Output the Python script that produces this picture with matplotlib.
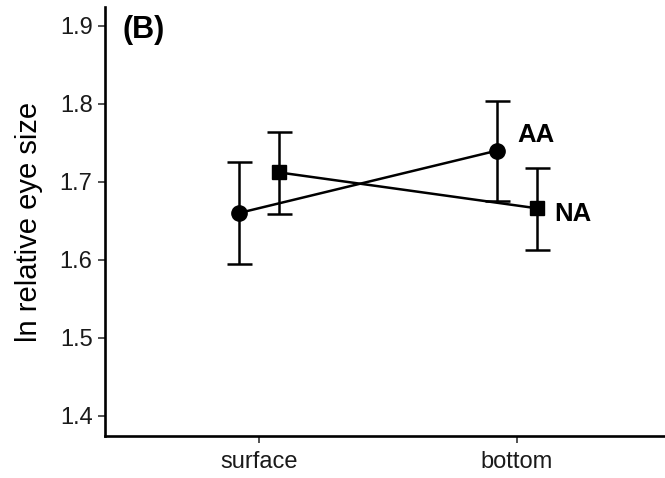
import matplotlib
matplotlib.use("Agg")
import matplotlib.pyplot as plt
import numpy as np

plt.rcParams['font.family'] = ['Liberation Sans', 'DejaVu Sans']

categories = ["surface", "bottom"]
groups = ["AA", "NA"]
aa_mean = [1.660, 1.740]
aa_lo = [1.595, 1.675]
aa_hi = [1.725, 1.804]
na_mean = [1.712, 1.666]
na_lo = [1.659, 1.612]
na_hi = [1.764, 1.718]
yticks = [1.4, 1.5, 1.6, 1.7, 1.8, 1.9]

fig = plt.figure(figsize=(6.65, 4.78), dpi=100)
ax = fig.add_axes([105/665, 42/478, 560/665, 429/478])

xc = np.arange(1, len(categories) + 1)
dodge = 0.076
series = [
    ("AA", aa_mean, aa_lo, aa_hi, 'o', 11, -dodge),
    ("NA", na_mean, na_lo, na_hi, 's', 10, dodge),
]
for name, m, lo, hi, mk, ms, off in series:
    x = xc + off
    m = np.array(m); lo = np.array(lo); hi = np.array(hi)
    ax.plot(x, m, color='black', lw=1.8, zorder=2)
    ax.errorbar(x, m, yerr=[m - lo, hi - m], fmt='none', ecolor='black',
                elinewidth=1.8, capsize=9, capthick=1.8, zorder=3)
    ax.plot(x, m, linestyle='none', marker=mk, markersize=ms, color='black', zorder=4)

ax.text(2.0, 1.760, "AA", fontsize=18.5, fontweight='bold', ha='left', va='center')
ax.text(2.143, 1.658, "NA", fontsize=18.5, fontweight='bold', ha='left', va='center')
ax.text(0.032, 0.946, "(B)", transform=ax.transAxes, fontsize=22, fontweight='bold',
        ha='left', va='center')

ax.set_xlim(0.403, 2.574)
ax.set_ylim(1.374, 1.924)
ax.set_xticks(xc)
ax.set_xticklabels(categories)
ax.set_yticks(yticks)
ax.set_yticklabels([f"{v:.1f}" for v in yticks])
ax.tick_params(axis='both', labelsize=17, colors='#333333', labelcolor='#1a1a1a',
               length=5, width=1.2, pad=4)
ax.tick_params(axis='x', pad=6)
for s in ['top', 'right']:
    ax.spines[s].set_visible(False)
for s in ['left', 'bottom']:
    ax.spines[s].set_linewidth(1.9)
    ax.spines[s].set_color('black')
ax.set_ylabel("ln relative eye size", fontsize=21, labelpad=12)

fig.savefig("out.png", dpi=100)
